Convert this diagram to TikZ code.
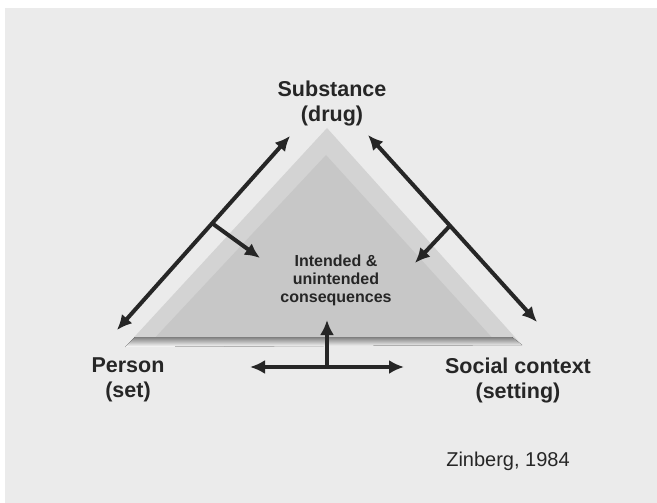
\documentclass[tikz,border=0pt]{standalone}
\usepackage{fontspec}
\setmainfont{Liberation Sans}
\usetikzlibrary{arrows.meta}

\definecolor{paper}{HTML}{EBEBEB}
\definecolor{bevel}{HTML}{D3D3D3}
\definecolor{face}{HTML}{C7C7C7}
\definecolor{shade}{HTML}{B8B8B8}
\definecolor{ink}{HTML}{262626}

\begin{document}
\begin{tikzpicture}[x=1pt,y=-1pt]
        \tikzstyle{every node}=[inner sep=0pt, text=ink, align=center]
        \tikzstyle{corner}=[font=\fontsize{21.5}{25}\selectfont\bfseries]
        \tikzstyle{middle}=[font=\fontsize{16}{18}\selectfont\bfseries]
        \tikzstyle{link}=[draw=ink, line width=4pt, {Latex[length=15pt,width=14pt]}-{Latex[length=15pt,width=14pt]}]
        \tikzstyle{push}=[draw=ink, line width=4pt, -{Latex[length=15pt,width=14pt]}]

        \fill[white] (0,0) rectangle (657,503);
        \fill[paper] (5,8) rectangle (657,503);
        \fill[bevel] (125,347) -- (327,128) -- (522,345) -- cycle;
        \fill[face] (150,343) -- (326,155) -- (497,343) -- cycle;
        \fill[shade] (125,347) -- (135,337) -- (512,337) -- (522,345) -- cycle;

        \node[corner] (drug)    at (332,103) {Substance\\(drug)};
        \node[corner] (person)  at (128,380) {Person\\(set)};
        \node[corner] (setting) at (518,380) {Social context\\(setting)};
        \node[middle] (effects) at (336,280) {Intended \&\\unintended\\consequences};
        \node[font=\fontsize{20}{24}\selectfont, anchor=base] (cite) at (508,466) {Zinberg, 1984};

        \coordinate (pL) at (117,330);
        \coordinate (sL) at (290,136);
        \coordinate (sR) at (368,135);
        \coordinate (cR) at (537,322);
        \coordinate (tL) at (260,258);
        \coordinate (tR) at (415,263);
        \coordinate (hL) at (250,367);
        \coordinate (hR) at (404,367);
        \coordinate (hM) at (327,367);
        \coordinate (tM) at (327,320);

        \draw[link] (pL) -- (sL) coordinate[pos=0.55] (jL);
        \draw[link] (sR) -- (cR) coordinate[pos=0.485] (jR);
        \draw[link] (hL) -- (hR);
        \draw[push] (jL) -- (tL);
        \draw[push] (jR) -- (tR);
        \draw[push] (hM) -- (tM);
\end{tikzpicture}
\end{document}
